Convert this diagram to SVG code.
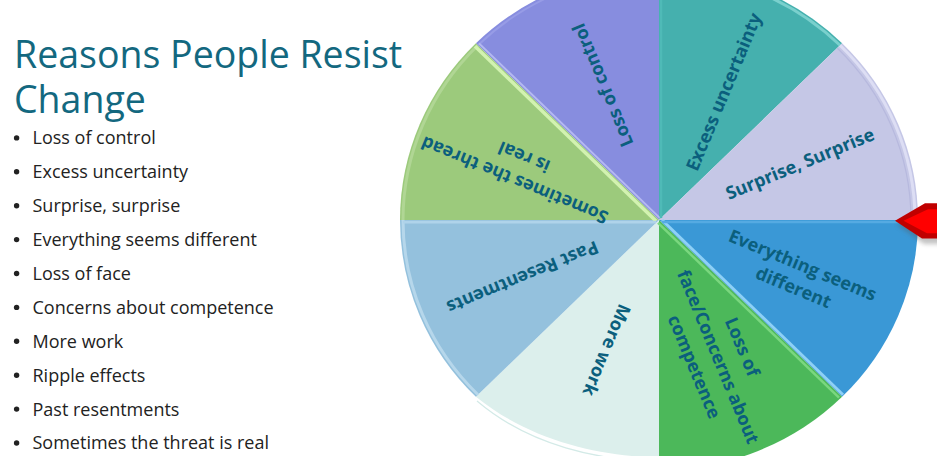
<svg xmlns="http://www.w3.org/2000/svg" width="937" height="456" viewBox="0 0 937 456">
<style>
.title{font-family:"Open Sans","Noto Sans",sans-serif;font-size:37.5px;fill:#13687F}
.item{font-family:"Open Sans","Noto Sans",sans-serif;font-size:18px;fill:#222}
.lbl{font-family:"Open Sans","Noto Sans",sans-serif;font-size:18px;font-weight:700;fill:#0B5F7D;text-anchor:middle}
.dot{fill:#222}
</style>
<defs>
<filter id="blur" x="-20%" y="-20%" width="140%" height="160%"><feGaussianBlur stdDeviation="2"/></filter>
</defs>
<rect width="937" height="456" fill="#fff"/>

<g id="title">
<text class="title"><tspan x="14" y="68">Reasons People Resist</tspan><tspan x="14" y="113">Change</tspan></text>
</g>

<g id="bullets">
<circle class="dot" cx="16.6" cy="137.9" r="2.7"/><text class="item" x="32.5" y="144.3">Loss of control</text>
<circle class="dot" cx="16.6" cy="171.8" r="2.7"/><text class="item" x="32.5" y="178.2">Excess uncertainty</text>
<circle class="dot" cx="16.6" cy="205.7" r="2.7"/><text class="item" x="32.5" y="212.1">Surprise, surprise</text>
<circle class="dot" cx="16.6" cy="239.6" r="2.7"/><text class="item" x="32.5" y="246">Everything seems different</text>
<circle class="dot" cx="16.6" cy="273.5" r="2.7"/><text class="item" x="32.5" y="279.9">Loss of face</text>
<circle class="dot" cx="16.6" cy="307.4" r="2.7"/><text class="item" x="32.5" y="313.8">Concerns about competence</text>
<circle class="dot" cx="16.6" cy="341.3" r="2.7"/><text class="item" x="32.5" y="347.7">More work</text>
<circle class="dot" cx="16.6" cy="375.2" r="2.7"/><text class="item" x="32.5" y="381.6">Ripple effects</text>
<circle class="dot" cx="16.6" cy="409.1" r="2.7"/><text class="item" x="32.5" y="415.5">Past resentments</text>
<circle class="dot" cx="16.6" cy="443" r="2.7"/><text class="item" x="32.5" y="449.4">Sometimes the threat is real</text>
</g>

<g id="wheel" transform="translate(659,220) scale(1,0.9653)">
<path id="slice-loss-of-control" d="M0,0 L0,-259 A259,259 0 0,0 -183.1,-183.1 Z" fill="#878DDF"/>
<path id="slice-excess" d="M0,0 L183.1,-183.1 A259,259 0 0,0 0,-259 Z" fill="#45B0AE"/>
<path id="slice-surprise" d="M0,0 L259,0 A259,259 0 0,0 183.1,-183.1 Z" fill="#C5C7E6"/>
<path id="slice-everything" d="M0,0 L183.1,183.1 A259,259 0 0,0 259,0 Z" fill="#3A98D6"/>
<path id="slice-face" d="M0,0 L0,259 A259,259 0 0,0 183.1,183.1 Z" fill="#4CB85A"/>
<path id="slice-more-work" d="M0,0 L-183.1,183.1 C-130,228 -60,245 0,246 Z" fill="#DCEFEC"/>
<path id="slice-past" d="M0,0 L-259,0 A259,259 0 0,0 -183.1,183.1 Z" fill="#94C1DD"/>
<path id="slice-threat" d="M0,0 L-183.1,-183.1 A259,259 0 0,0 -259,0 Z" fill="#9CCA7C"/>
<!-- bevel rims -->
<path d="M181,-181 A256,256 0 0,0 0,-256" fill="none" stroke="#7AD0CD" stroke-width="3"/>
<path d="M256,0 A256,256 0 0,0 181,-181" fill="none" stroke="#DDDEF4" stroke-width="3"/>
<path d="M252,0 A252,252 0 0,0 178.2,-178.2" fill="none" stroke="#B7B9DE" stroke-width="1.2"/>
<path d="M-256,0 A256,256 0 0,0 -181,181" fill="none" stroke="#B6D7EB" stroke-width="3"/>
<path d="M-181,-181 A256,256 0 0,0 -256,0" fill="none" stroke="#B0D694" stroke-width="3"/>
<path d="M-2,-256 A256,256 0 0,0 -181,-181" fill="none" stroke="#979CE6" stroke-width="2"/>
<!-- boundary highlights -->
<line x1="-3" y1="1" x2="-184" y2="-180" stroke="#D2F2B0" stroke-width="3.5"/>
<line x1="1" y1="-2" x2="-180" y2="-183" stroke="#B4B8F2" stroke-width="2"/>
<line x1="3" y1="0" x2="184" y2="181" stroke="#8ED0F6" stroke-width="3"/>
<line x1="-1" y1="3" x2="180" y2="184" stroke="#7AD77E" stroke-width="2.5"/>
<line x1="-3" y1="2.2" x2="-256" y2="2.2" stroke="#AFD3EA" stroke-width="3"/>
<line x1="3" y1="2" x2="256" y2="2" stroke="#55AAE2" stroke-width="2.5"/>
<line x1="2" y1="-2" x2="2" y2="-256" stroke="#4FBAB7" stroke-width="2.5"/>
</g>
<path d="M477,401 C530,446 600,461 659,461" fill="none" stroke="#D3EAE7" stroke-width="1.2"/>

<g id="labels">
<g id="label-loss-of-control" transform="translate(603,85) rotate(-112.5)"><text class="lbl" x="0" y="6">Loss of control</text></g>
<g id="label-excess" transform="translate(724,92) rotate(-67.5)"><text class="lbl" x="0" y="6">Excess uncertainty</text></g>
<g id="label-surprise" transform="translate(800,164) rotate(-22.5)"><text class="lbl" x="0" y="6">Surprise, Surprise</text></g>
<g id="label-everything" transform="translate(798,276.5) rotate(22.5)"><text class="lbl" x="0" y="-6">Everything seems</text><text class="lbl" x="0" y="18">different</text></g>
<g id="label-face" transform="translate(718,357) rotate(67.5)"><text class="lbl" x="0" y="-20">Loss of</text><text class="lbl" x="0" y="6">face/Concerns about</text><text class="lbl" x="0" y="32">competence</text></g>
<g id="label-more-work" transform="translate(606.5,350) rotate(112.5)"><text class="lbl" x="0" y="6">More work</text></g>
<g id="label-past" transform="translate(522.5,277) rotate(157.5)"><text class="lbl" x="0" y="6">Past Resentments</text></g>
<g id="label-threat" transform="translate(519.4,168.3) rotate(-157.5)"><text class="lbl" x="0" y="-6.5">Sometimes the thread</text><text class="lbl" x="0" y="18.5">is real</text></g>
</g>

<g id="pointer">
<polygon points="897,225 927,208 942,208 942,244 924,244" fill="#555" opacity="0.35" filter="url(#blur)"/>
<polygon points="895,220.7 925,203.3 940,203.3 940,238.5 922,238.5" fill="#C00000"/>
<polygon points="903.5,220.7 928,209.3 940,209.3 940,233.3 927,233.3" fill="#FF0000"/>
</g>
</svg>
